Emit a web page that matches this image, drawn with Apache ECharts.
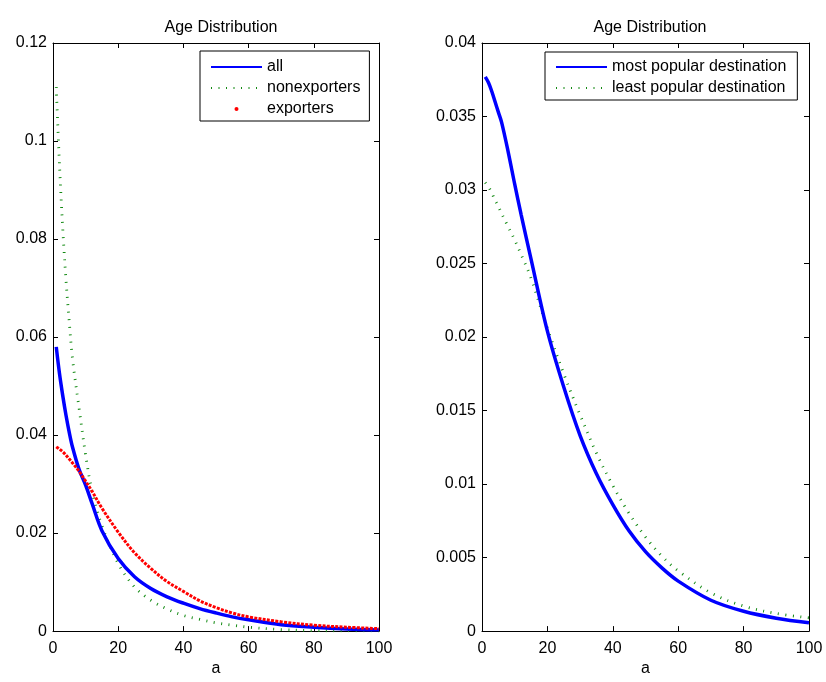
<!DOCTYPE html>
<html style="height: 100%">
<head>
<meta charset="utf-8">
<script src="https://cdn.jsdelivr.net/npm/echarts@6/dist/echarts.min.js"></script>
</head>
<body style="height: 100%; margin: 0; background: #fff">
<div id="container" style="width: 826px; height: 682px"></div>
<script type="text/javascript">
// firm age a
var ages = [1, 2, 3, 4, 5, 6, 8, 10, 12, 15, 20, 25, 30, 35, 40, 45, 50, 55, 60, 70, 80, 90, 100];

// left panel
var allFirms     = [0.058, 0.0525, 0.048, 0.044, 0.0405, 0.0375, 0.033, 0.0298, 0.026, 0.0205, 0.0148, 0.0111, 0.0087, 0.007, 0.0057, 0.0046, 0.0037, 0.0029, 0.0023, 0.0013, 0.0008, 0.00045, 0.00025];
var nonexporters = [0.111, 0.095, 0.082, 0.0715, 0.063, 0.0555, 0.0455, 0.036, 0.0285, 0.0215, 0.0138, 0.009, 0.0063, 0.0045, 0.0032, 0.0024, 0.0017, 0.0012, 0.0008, 0.0003, 0.0001, 0.00005, 0.00002];
var exporters    = [0.0376, 0.0371, 0.0366, 0.0359, 0.0351, 0.0343, 0.0326, 0.0306, 0.0285, 0.0251, 0.0202, 0.016, 0.0128, 0.0101, 0.0081, 0.0062, 0.0048, 0.0037, 0.0029, 0.0019, 0.0012, 0.0008, 0.0005];

// right panel
var mostPopular  = [0.0377, 0.0373, 0.0367, 0.036, 0.0353, 0.0346, 0.0326, 0.0304, 0.0283, 0.0253, 0.0204, 0.0166, 0.0133, 0.0107, 0.0086, 0.0068, 0.0054, 0.0043, 0.0034, 0.0021, 0.00135, 0.00088, 0.00057];
var leastPopular = [0.0305, 0.0302, 0.0298, 0.0293, 0.0289, 0.0284, 0.0275, 0.0266, 0.0256, 0.024, 0.0206, 0.0175, 0.0147, 0.0121, 0.0099, 0.008, 0.0064, 0.0051, 0.0041, 0.0026, 0.0017, 0.0012, 0.0009];

function pairs(ys) {
    return ages.map(function (a, i) { return [a, ys[i]]; });
}

var font = 'Liberation Sans, Arial, sans-serif';
var green = '#138a13';

function xAx(grid, top) {
    return {
        type: 'value', gridIndex: grid, min: 0, max: 100, interval: 20,
        position: top ? 'top' : 'bottom',
        name: top ? '' : 'a', nameLocation: 'middle', nameGap: 27,
        nameTextStyle: {fontFamily: font, fontSize: 16, color: '#000'},
        axisLine: {show: true, onZero: false, lineStyle: {color: '#000', width: 1}},
        axisTick: {show: true, inside: true, length: 5, lineStyle: {color: '#000'}},
        axisLabel: {show: !top, margin: 9, fontFamily: font, fontSize: 16, color: '#000'},
        splitLine: {show: false}
    };
}
function yAx(grid, max, step, right) {
    return {
        type: 'value', gridIndex: grid, min: 0, max: max, interval: step,
        position: right ? 'right' : 'left',
        axisLine: {show: true, onZero: false, lineStyle: {color: '#000', width: 1}},
        axisTick: {show: true, inside: true, length: 5, lineStyle: {color: '#000'}},
        axisLabel: {show: !right, margin: 6, fontFamily: font, fontSize: 16, color: '#000'},
        splitLine: {show: false}
    };
}

var dom = document.getElementById('container');
var myChart = echarts.init(dom, null, {renderer: 'canvas'});

var legendBase = {
    orient: 'vertical', itemGap: 5, itemWidth: 51, itemHeight: 4,
    borderColor: '#000', borderWidth: 1, borderRadius: 0, backgroundColor: '#fff',
    itemStyle: {opacity: 0},
    textStyle: {fontFamily: font, fontSize: 16, color: '#000'}
};

var option = {
    backgroundColor: '#fff',
    animation: false,
    title: [
        {text: 'Age Distribution', left: 216, top: 15, textAlign: 'center',
         textStyle: {fontFamily: font, fontSize: 16, fontWeight: 'normal', color: '#000'}},
        {text: 'Age Distribution', left: 645, top: 15, textAlign: 'center',
         textStyle: {fontFamily: font, fontSize: 16, fontWeight: 'normal', color: '#000'}}
    ],
    legend: [
        Object.assign({}, legendBase, {
            left: 200, top: 51, padding: [8, 9, 4, 10],
            data: ['all', 'nonexporters',
                   {name: 'exporters', icon: 'circle', itemStyle: {color: '#ff0000', opacity: 1}}]
        }),
        Object.assign({}, legendBase, {
            left: 545, top: 52, padding: [7, 11, 4, 10],
            data: ['most popular destination', 'least popular destination']
        })
    ],
    grid: [
        {left: 53, top: 43, width: 326, height: 596},
        {left: 482, top: 43, width: 327, height: 597}
    ],
    xAxis: [xAx(0, false), xAx(0, true), xAx(1, false), xAx(1, true)],
    yAxis: [yAx(0, 0.12, 0.02, false), yAx(0, 0.12, 0.02, true),
            yAx(1, 0.04, 0.005, false), yAx(1, 0.04, 0.005, true)],
    series: [
        {
            name: 'all', type: 'line', xAxisIndex: 0, yAxisIndex: 0,
            data: pairs(allFirms), smooth: 0.35, symbol: 'none',
            lineStyle: {color: '#0000ff', width: 3.5}, itemStyle: {color: '#0000ff'}, z: 3
        },
        {
            name: 'nonexporters', type: 'line', xAxisIndex: 0, yAxisIndex: 0,
            data: pairs(nonexporters), smooth: 0.35, symbol: 'none',
            lineStyle: {color: green, width: 2.8, type: [1, 6.5], cap: 'butt'}, itemStyle: {color: green}, z: 2
        },
        {
            name: 'exporters', type: 'line', xAxisIndex: 0, yAxisIndex: 0,
            data: pairs(exporters), smooth: 0.35, symbol: 'none',
            lineStyle: {color: '#ff0000', width: 3, type: [3, 1.3], cap: 'butt'}, itemStyle: {color: '#ff0000'}, z: 4
        },
        {
            name: 'most popular destination', type: 'line', xAxisIndex: 2, yAxisIndex: 2,
            data: pairs(mostPopular), smooth: 0.35, symbol: 'none',
            lineStyle: {color: '#0000ff', width: 3.5}, itemStyle: {color: '#0000ff'}, z: 3
        },
        {
            name: 'least popular destination', type: 'line', xAxisIndex: 2, yAxisIndex: 2,
            data: pairs(leastPopular), smooth: 0.35, symbol: 'none',
            lineStyle: {color: green, width: 2.8, type: [1, 6.5], cap: 'butt'}, itemStyle: {color: green}, z: 2
        }
    ]
};
myChart.setOption(option);
</script>
</body>
</html>
